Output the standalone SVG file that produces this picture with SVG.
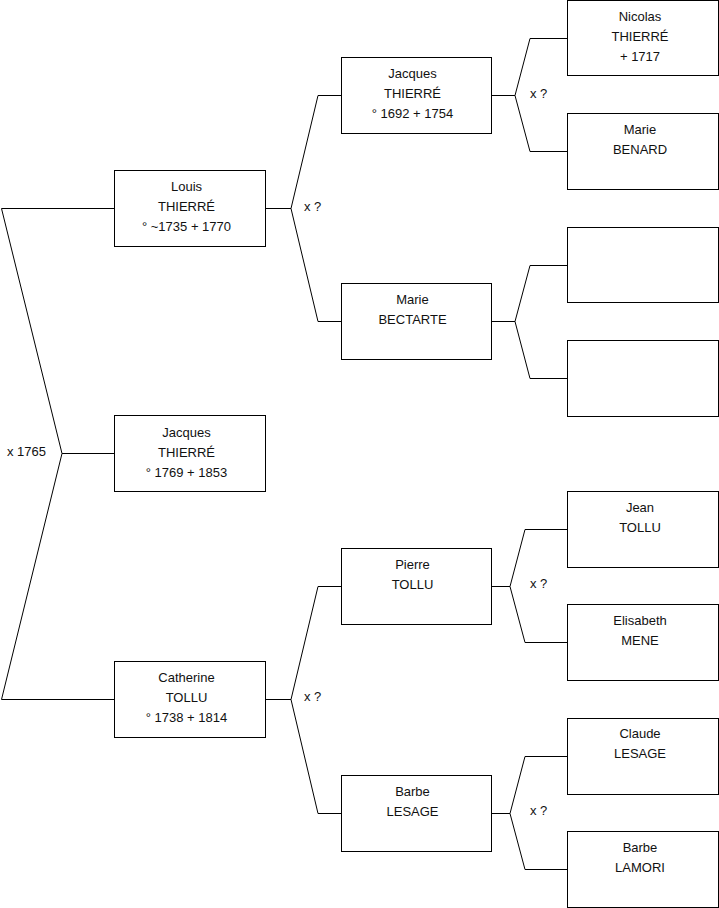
<svg xmlns="http://www.w3.org/2000/svg" width="719" height="908" viewBox="0 0 719 908">
<style>
.box{fill:#fff;stroke:#000;stroke-width:1}
.ln{fill:none;stroke:#000;stroke-width:1}
text{font-family:"Liberation Sans",Arial,sans-serif;font-size:13px;fill:#111}
.c{text-anchor:middle}
</style>
<rect width="719" height="908" fill="#fff"/>
<g id="connectors">
<polyline class="ln" points="114.5,208.5 1.5,208.5 62,453.5 1.5,699.5 114.5,699.5"/>
<line class="ln" x1="62" y1="453.5" x2="114.5" y2="453.5"/>
<line class="ln" x1="265.5" y1="208.5" x2="291" y2="208.5"/>
<polyline class="ln" points="341.5,95.5 318,95.5 291,208.5 318,321.5 341.5,321.5"/>
<line class="ln" x1="265.5" y1="699.5" x2="291" y2="699.5"/>
<polyline class="ln" points="341.5,586.5 318,586.5 291,699.5 318,813.5 341.5,813.5"/>
<line class="ln" x1="491.5" y1="95.5" x2="515" y2="95.5"/>
<polyline class="ln" points="567.5,38.5 530,38.5 515,95.5 530,151.5 567.5,151.5"/>
<line class="ln" x1="491.5" y1="321.5" x2="515" y2="321.5"/>
<polyline class="ln" points="567.5,265.5 530,265.5 515,321.5 530,378.5 567.5,378.5"/>
<line class="ln" x1="491.5" y1="586.5" x2="510" y2="586.5"/>
<polyline class="ln" points="567.5,529.5 525,529.5 510,586.5 525,642.5 567.5,642.5"/>
<line class="ln" x1="491.5" y1="813.5" x2="510" y2="813.5"/>
<polyline class="ln" points="567.5,756.5 525,756.5 510,813.5 525,869.5 567.5,869.5"/>
<text x="7" y="456">x 1765</text>
<text x="304" y="211">x ?</text>
<text x="304" y="701">x ?</text>
<text x="530" y="98">x ?</text>
<text x="530" y="588">x ?</text>
<text x="530" y="815">x ?</text>
</g>
<g id="louis"><rect class="box" x="114.5" y="170.5" width="151" height="76"/>
<text class="c" x="186.5" y="191">Louis</text><text class="c" x="186.5" y="211">THIERRÉ</text><text class="c" x="186.5" y="231">° ~1735 + 1770</text></g>
<g id="jacques1769"><rect class="box" x="114.5" y="415.5" width="151" height="76"/>
<text class="c" x="186.5" y="437">Jacques</text><text class="c" x="186.5" y="457">THIERRÉ</text><text class="c" x="186.5" y="477">° 1769 + 1853</text></g>
<g id="catherine"><rect class="box" x="114.5" y="661.5" width="151" height="76"/>
<text class="c" x="186.5" y="682">Catherine</text><text class="c" x="186.5" y="702">TOLLU</text><text class="c" x="186.5" y="722">° 1738 + 1814</text></g>
<g id="jacques1692"><rect class="box" x="341.5" y="57.5" width="150" height="76"/>
<text class="c" x="412.5" y="78">Jacques</text><text class="c" x="412.5" y="98">THIERRÉ</text><text class="c" x="412.5" y="118">° 1692 + 1754</text></g>
<g id="marie-bectarte"><rect class="box" x="341.5" y="283.5" width="150" height="76"/>
<text class="c" x="412.5" y="304">Marie</text><text class="c" x="412.5" y="324">BECTARTE</text></g>
<g id="pierre"><rect class="box" x="341.5" y="548.5" width="150" height="76"/>
<text class="c" x="412.5" y="569">Pierre</text><text class="c" x="412.5" y="589">TOLLU</text></g>
<g id="barbe-lesage"><rect class="box" x="341.5" y="775.5" width="150" height="76"/>
<text class="c" x="412.5" y="796">Barbe</text><text class="c" x="412.5" y="816">LESAGE</text></g>
<g id="nicolas"><rect class="box" x="567.5" y="0.5" width="151" height="75"/>
<text class="c" x="640" y="21">Nicolas</text><text class="c" x="640" y="41">THIERRÉ</text><text class="c" x="640" y="61">+ 1717</text></g>
<g id="marie-benard"><rect class="box" x="567.5" y="113.5" width="151" height="76"/>
<text class="c" x="640" y="134">Marie</text><text class="c" x="640" y="154">BENARD</text></g>
<g id="empty1"><rect class="box" x="567.5" y="227.5" width="151" height="75"/></g>
<g id="empty2"><rect class="box" x="567.5" y="340.5" width="151" height="76"/></g>
<g id="jean"><rect class="box" x="567.5" y="491.5" width="151" height="76"/>
<text class="c" x="640" y="512">Jean</text><text class="c" x="640" y="532">TOLLU</text></g>
<g id="elisabeth"><rect class="box" x="567.5" y="604.5" width="151" height="76"/>
<text class="c" x="640" y="625">Elisabeth</text><text class="c" x="640" y="645">MENE</text></g>
<g id="claude"><rect class="box" x="567.5" y="718.5" width="151" height="76"/>
<text class="c" x="640" y="738">Claude</text><text class="c" x="640" y="758">LESAGE</text></g>
<g id="barbe-lamori"><rect class="box" x="567.5" y="831.5" width="151" height="76"/>
<text class="c" x="640" y="852">Barbe</text><text class="c" x="640" y="872">LAMORI</text></g>
</svg>
